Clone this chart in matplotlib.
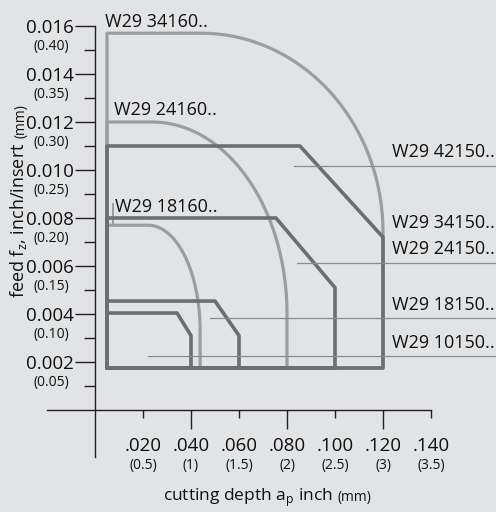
import numpy as np
import matplotlib
matplotlib.use("Agg")
import matplotlib.pyplot as plt

# ---------------- data ----------------
x_ticks_inch = [0.020, 0.040, 0.060, 0.080, 0.100, 0.120, 0.140]
x_tick_labels_inch = [".020", ".040", ".060", ".080", ".100", ".120", ".140"]
x_tick_labels_mm = ["(0.5)", "(1)", "(1.5)", "(2)", "(2.5)", "(3)", "(3.5)"]
x_long_ticks = [0.040, 0.080, 0.120]
x_short_ticks = [0.020, 0.060, 0.100, 0.140]

y_ticks_inch = [0.002, 0.004, 0.006, 0.008, 0.010, 0.012, 0.014, 0.016]
y_tick_labels_inch = ["0.002", "0.004", "0.006", "0.008", "0.010", "0.012", "0.014", "0.016"]
y_ticks_mm = [0.001, 0.003, 0.005, 0.007, 0.009, 0.011, 0.013, 0.015]
y_tick_labels_mm = ["(0.05)", "(0.10)", "(0.15)", "(0.20)", "(0.25)", "(0.30)", "(0.35)", "(0.40)"]

# common lower-left corner of every application window
window_min_depth = 0.005
window_min_feed = 0.00175

# round inserts (light grey, elliptical corner)
round_labels = ["W29 34160..", "W29 24160..", "W29 18160.."]
round_max_feed = [0.0157, 0.0120, 0.0077]
round_arc_start_depth = [0.0442, 0.0238, 0.0221]
round_max_depth = [0.120, 0.080, 0.0438]
round_arc_end_feed = [0.0074, 0.0040, 0.0033]

# square inserts (dark grey, chamfered corner)
square_max_feed = [0.0110, 0.0080, 0.00454, 0.00404]
square_corner_depth = [0.0854, 0.0754, 0.0500, 0.0342]
square_max_depth = [0.120, 0.100, 0.060, 0.040]
square_corner_feed = [0.0072, 0.0051, 0.0031, 0.0031]
square_labels = ["W29 42150..", "W29 34150..", "W29 24150..", "W29 18150..", "W29 10150.."]

# leader lines of the square-insert labels
leader_feed = [0.01017, 0.006125, 0.00383, 0.00225]
leader_start_depth = [0.0829, 0.0842, 0.048, 0.022]

# ---------------- layout ----------------
round_label_pos = [(0.00417, 0.01596), (0.0079, 0.01229), (0.00833, 0.00825)]
square_label_pos = [(0.1237, 0.01054), (0.1237, 0.00758), (0.1237, 0.0065),
                    (0.1237, 0.004167), (0.1237, 0.00258)]

BG = "#e2e3e5"
LIGHT = "#9c9d9f"
DARK = "#6d6e70"
LEADER = "#8a8b8d"
AXC = "#231f20"
FONT = "Open Sans"

plt.rcParams["font.family"] = [FONT, "DejaVu Sans"]

fig = plt.figure(figsize=(4.96, 5.12), dpi=100, facecolor=BG)
ax = fig.add_axes([0, 0, 1, 1], facecolor=BG)
ax.set_xlim(-95 / 2400, 401 / 2400)
ax.set_ylim(-102 / 24000, 410 / 24000)

for s in ["top", "right"]:
    ax.spines[s].set_visible(False)
ax.spines["left"].set_position(("data", 0))
ax.spines["bottom"].set_position(("data", 0))
ax.spines["left"].set_bounds(-0.00196, 0.016)
ax.spines["bottom"].set_bounds(-0.02, 0.14)
for s in ["left", "bottom"]:
    ax.spines[s].set_color(AXC)
    ax.spines[s].set_linewidth(1.0)

# y ticks
ax.set_yticks(y_ticks_inch, labels=y_tick_labels_inch)
ax.set_yticks(y_ticks_mm, minor=True)
ax.tick_params(axis="y", which="major", length=14.4, width=1.0, color=AXC,
               pad=0.8, labelsize=13.5, labelcolor="#111")
ax.tick_params(axis="y", which="minor", length=7.9, width=1.0, color=AXC,
               labelleft=False)
for v, lab in zip(y_ticks_mm, y_tick_labels_mm):
    ax.annotate(lab, xy=(0, v), xycoords="data", xytext=(-18.7, 0),
                textcoords="offset points", ha="right", va="baseline",
                fontsize=10, color="#111")

# x ticks
ax.set_xticks(x_long_ticks, labels=[])
ax.set_xticks(x_short_ticks, minor=True)
ax.tick_params(axis="x", which="major", length=13.7, width=1.0, color=AXC)
ax.tick_params(axis="x", which="minor", length=5.8, width=1.0, color=AXC)
for v, l1, l2 in zip(x_ticks_inch, x_tick_labels_inch, x_tick_labels_mm):
    ax.annotate(l1, xy=(v, 0), xycoords="data", xytext=(0, -29.5),
                textcoords="offset points", ha="center", va="baseline",
                fontsize=13.5, color="#111")
    ax.annotate(l2, xy=(v, 0), xycoords="data", xytext=(0, -42.5),
                textcoords="offset points", ha="center", va="baseline",
                fontsize=10, color="#111")

# round insert windows
for top, xs, xe, ye in zip(round_max_feed, round_arc_start_depth,
                           round_max_depth, round_arc_end_feed):
    t = np.linspace(np.pi / 2, 0, 60)
    ax_ = xs + (xe - xs) * np.cos(t)
    ay_ = ye + (top - ye) * np.sin(t)
    xs_path = np.concatenate([[window_min_depth, window_min_depth], ax_, [xe, window_min_depth]])
    ys_path = np.concatenate([[window_min_feed, top], ay_, [window_min_feed, window_min_feed]])
    ax.plot(xs_path, ys_path, color=LIGHT, lw=2.3, solid_joinstyle="round",
            solid_capstyle="round", zorder=2)

# small connector of the smallest round-insert label
ax.plot([0.0075, 0.0075], [round_max_feed[2], 0.0086], color=LIGHT, lw=1.4, zorder=2)

# square insert windows
for top, xc, xe, yc in zip(square_max_feed, square_corner_depth,
                           square_max_depth, square_corner_feed):
    xs_path = [window_min_depth, window_min_depth, xc, xe, xe, window_min_depth]
    ys_path = [window_min_feed, top, top, yc, window_min_feed, window_min_feed]
    ax.plot(xs_path, ys_path, color=DARK, lw=2.6, solid_joinstyle="round",
            solid_capstyle="round", zorder=3)

# leader lines
xmax = ax.get_xlim()[1]
for fy, fx in zip(leader_feed, leader_start_depth):
    ax.plot([fx, xmax], [fy, fy], color=LEADER, lw=0.9, zorder=4)

# labels
for lab, (lx, ly) in zip(round_labels, round_label_pos):
    ax.text(lx, ly, lab, ha="left", va="baseline", fontsize=13, color="#111")
for lab, (lx, ly) in zip(square_labels, square_label_pos):
    ax.text(lx, ly, lab, ha="left", va="baseline", fontsize=13, color="#111")

# axis titles
tx = ax.annotate("cutting depth a$_\\mathregular{p}$ inch", xy=(0, 0), xycoords="data",
                 xytext=(49, -65.5), textcoords="offset points",
                 ha="left", va="baseline", fontsize=12.5, color="#111")
ax.annotate("(mm)", xy=(1, 0), xycoords=(tx, "data"), xytext=(3.5, -65.5),
            textcoords="offset points", ha="left", va="baseline",
            fontsize=10, color="#111")

ty = ax.annotate("feed f$_\\mathregular{z}$, inch/insert", xy=(0, 0), xycoords="data",
                 xytext=(-51, 80.6), textcoords="offset points", rotation=90,
                 rotation_mode="anchor", ha="left", va="baseline",
                 fontsize=13, color="#111")
ax.annotate("(mm)", xy=(0, 1), xycoords=("data", ty), xytext=(-51, 3),
            textcoords="offset points", rotation=90, rotation_mode="anchor",
            ha="left", va="baseline", fontsize=10, color="#111")

fig.savefig("out.png", dpi=100, facecolor=BG)
